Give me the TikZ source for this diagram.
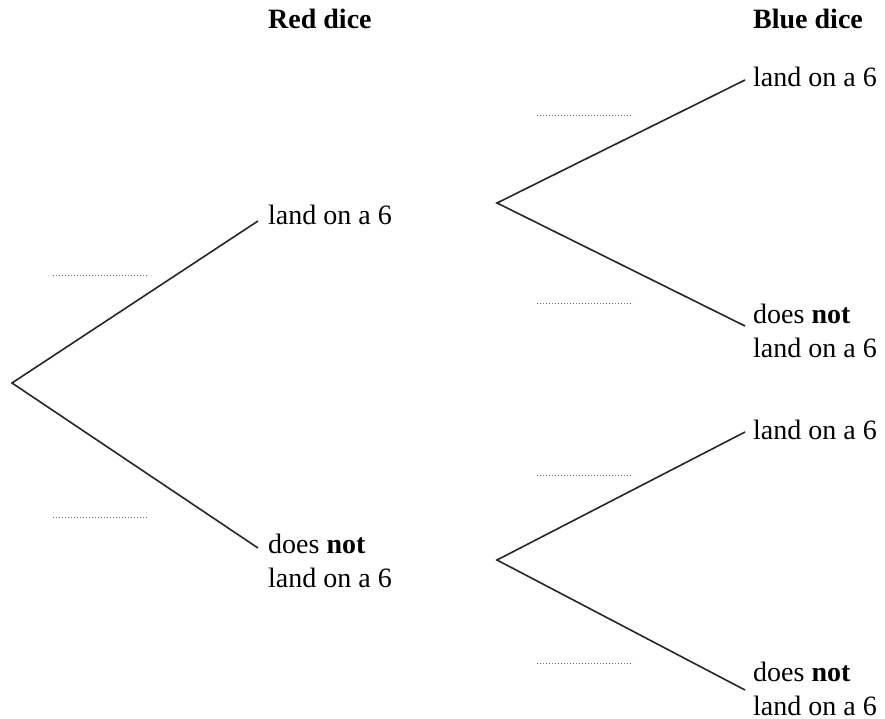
\documentclass[tikz,border=0pt]{standalone}
\usepackage{fontspec}
\setmainfont{Liberation Serif}
\begin{document}
\begin{tikzpicture}[x=1pt,y=-1pt,
  lbl/.style={inner sep=0pt,font=\fontsize{28}{34}\selectfont,text=black},
  lbltwo/.style={lbl,anchor=north west,align=left},
  lblone/.style={lbl,anchor=base west},
  branch/.style={line width=1.6pt,draw=black!85},
  dotline/.style={line width=0.9pt,draw=black!60,dash pattern=on 1pt off 2pt}]
\useasboundingbox (0,0) rectangle (885,719);
% headings
\node[lblone] (redh) at (268,29) {\textbf{Red dice}};
\node[lblone] (blueh) at (753,29) {\textbf{Blue dice}};
% branch points
\coordinate (root) at (12,383);
\coordinate (r1) at (258,221);
\coordinate (r2) at (258,548);
\coordinate (m1) at (497,203);
\coordinate (m2) at (497,560);
\coordinate (b1) at (745,80);
\coordinate (b2) at (745,326);
\coordinate (b3) at (745,432);
\coordinate (b4) at (745,690);
% labels
\node[lblone] (t1) at (268,225) {land on a 6};
\node[lbltwo] (t2) at (268,534) {does \textbf{not}\\land on a 6};
\node[lblone] (t3) at (753,87) {land on a 6};
\node[lbltwo] (t4) at (753,304) {does \textbf{not}\\land on a 6};
\node[lblone] (t5) at (753,439) {land on a 6};
\node[lbltwo] (t6) at (753,662) {does \textbf{not}\\land on a 6};
% branches
\draw[branch] (r1) -- (root) -- (r2);
\draw[branch] (b1) -- (m1) -- (b2);
\draw[branch] (b3) -- (m2) -- (b4);
% probability blanks
\coordinate (d1a) at (53,275); \coordinate (d1b) at (148,275);
\coordinate (d2a) at (53,517); \coordinate (d2b) at (148,517);
\coordinate (d3a) at (537,115); \coordinate (d3b) at (633,115);
\coordinate (d4a) at (537,303); \coordinate (d4b) at (633,303);
\coordinate (d5a) at (537,475); \coordinate (d5b) at (633,475);
\coordinate (d6a) at (537,663); \coordinate (d6b) at (633,663);
\draw[dotline] (d1a) -- (d1b);
\draw[dotline] (d2a) -- (d2b);
\draw[dotline] (d3a) -- (d3b);
\draw[dotline] (d4a) -- (d4b);
\draw[dotline] (d5a) -- (d5b);
\draw[dotline] (d6a) -- (d6b);
\end{tikzpicture}
\end{document}
